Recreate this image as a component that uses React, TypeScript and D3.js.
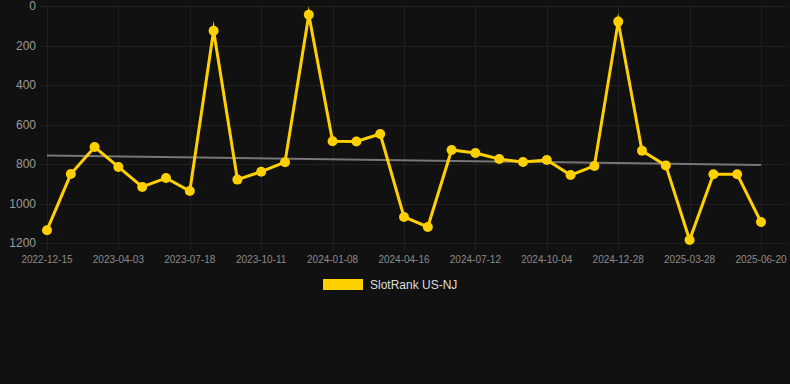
import React from "react";
import * as d3 from "d3";

const W = 790;
const H = 384;

// categories (only every 3rd is labelled on the axis)
const dates = [
  "2022-12-15", "2023-01-20", "2023-02-25", "2023-04-03", "2023-05-08", "2023-06-13",
  "2023-07-18", "2023-08-15", "2023-09-13", "2023-10-11", "2023-11-10", "2023-12-10",
  "2024-01-08", "2024-02-10", "2024-03-14", "2024-04-16", "2024-05-15", "2024-06-13",
  "2024-07-12", "2024-08-09", "2024-09-06", "2024-10-04", "2024-11-01", "2024-11-30",
  "2024-12-28", "2025-01-27", "2025-02-26", "2025-03-28", "2025-04-24", "2025-05-22",
  "2025-06-20",
];

const rankNJ = [
  1135, 851, 714, 815, 916, 871, 937, 125, 879, 839, 791, 44, 685, 686, 648, 1068,
  1119, 729, 744, 775, 790, 780, 856, 810, 79, 733, 807, 1185, 852, 852, 1094,
];

const yTicks = [0, 200, 400, 600, 800, 1000, 1200];
const seriesName = "SlotRank US-NJ";

export default function App() {
  const x = d3.scalePoint<string>().domain(dates).range([47, 761]);
  const y = d3.scaleLinear().domain([0, 1200]).range([6, 243]);

  const xTicks = dates.filter((_, i) => i % 3 === 0);

  // least squares trend over the series
  const n = rankNJ.length;
  const idx = d3.range(n);
  const mx = d3.mean(idx)!;
  const my = d3.mean(rankNJ)!;
  const slope =
    d3.sum(idx, (i) => (i - mx) * (rankNJ[i] - my)) / d3.sum(idx, (i) => (i - mx) ** 2);
  const icpt = my - slope * mx;
  const trend = [0, n - 1].map((i) => ({ d: dates[i], v: icpt + slope * i }));

  const line = d3
    .line<number>()
    .x((_, i) => x(dates[i])!)
    .y((v) => y(v));

  return (
    <div style={{ position: "absolute", left: 0, top: 0 }}>
      <svg width={W} height={H} style={{ display: "block", background: "#111111" }}>
        <rect width={W} height={H} fill="#111111" />
        {/* grid */}
        <g stroke="#202020" strokeWidth={1}>
          {yTicks.map((t) => (
            <line key={t} x1={40} x2={789} y1={Math.round(y(t)) + 0.5} y2={Math.round(y(t)) + 0.5} />
          ))}
          {xTicks.map((d) => (
            <line key={d} x1={Math.round(x(d)!) + 0.5} x2={Math.round(x(d)!) + 0.5} y1={6} y2={250} />
          ))}
        </g>
        {/* y labels */}
        <g fontFamily="Helvetica, Arial, 'Liberation Sans', sans-serif" fontSize={12} fill="#9a9a9a" textAnchor="end">
          {yTicks.map((t) => (
            <text key={t} x={36} y={y(t)} dy="0.35em">
              {t}
            </text>
          ))}
        </g>
        {/* x labels */}
        <g fontFamily="Helvetica, Arial, 'Liberation Sans', sans-serif" fontSize={10} fill="#8a8a8a" textAnchor="middle">
          {xTicks.map((d) => (
            <text key={d} x={x(d)} y={259} dy="0.35em">
              {d}
            </text>
          ))}
        </g>
        {/* trend */}
        <line
          x1={x(trend[0].d)}
          y1={y(trend[0].v)}
          x2={x(trend[1].d)}
          y2={y(trend[1].v)}
          stroke="#777777"
          strokeWidth={2}
        />
        {/* series */}
        <path
          d={line(rankNJ) || ""}
          fill="none"
          stroke="#FFD000"
          strokeWidth={3}
          strokeLinejoin="miter"
          strokeMiterlimit={10}
        />
        {rankNJ.map((v, i) => (
          <circle key={i} cx={x(dates[i])} cy={y(v)} r={5} fill="#FFD000" />
        ))}
        {/* legend */}
        <rect x={323} y={279} width={40} height={11} fill="#FFD000" />
        <text
          x={370}
          y={285}
          dy="0.35em"
          fontFamily="Helvetica, Arial, 'Liberation Sans', sans-serif"
          fontSize={12}
          fill="#dddddd"
        >
          {seriesName}
        </text>
      </svg>
    </div>
  );
}
